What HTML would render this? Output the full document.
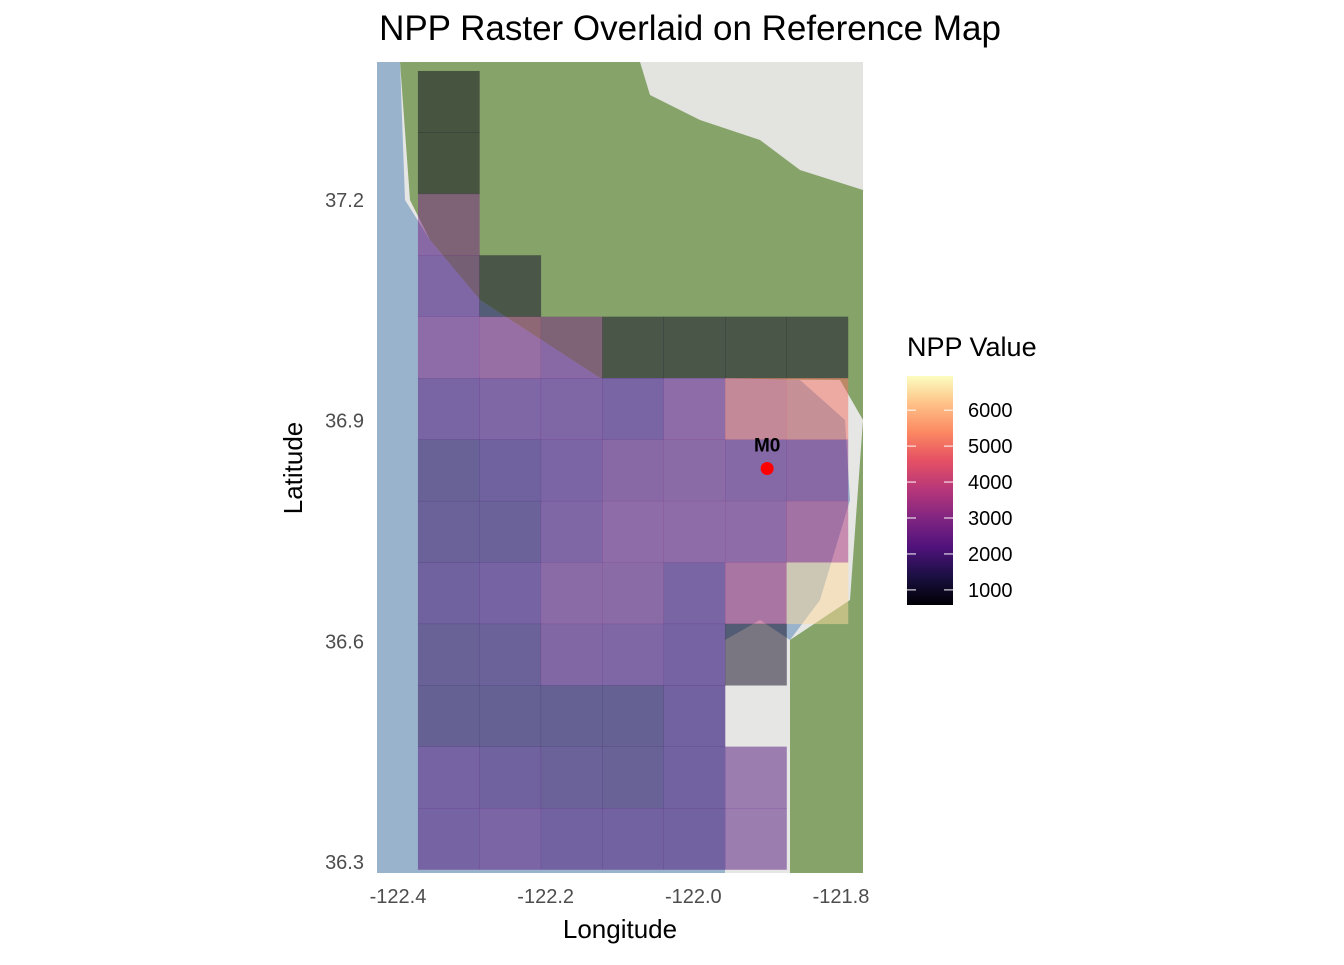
<!DOCTYPE html>
<html><head><meta charset="utf-8">
<style>
body{margin:0;background:#fff;font-family:"Liberation Sans",sans-serif;}
svg text{font-family:"Liberation Sans",sans-serif;}
</style></head>
<body>
<svg id="chart" width="1344" height="960">
<defs>
<linearGradient id="magma" x1="0" y1="1" x2="0" y2="0">
<stop offset="0" stop-color="#000004"/><stop offset="0.13" stop-color="#1c1044"/>
<stop offset="0.25" stop-color="#4f127b"/><stop offset="0.38" stop-color="#812581"/>
<stop offset="0.5" stop-color="#b5367a"/><stop offset="0.63" stop-color="#e55064"/>
<stop offset="0.75" stop-color="#fb8761"/><stop offset="0.88" stop-color="#fec287"/>
<stop offset="1" stop-color="#fcfdbf"/></linearGradient>
<clipPath id="plotclip"><rect x="377" y="62" width="486" height="811"/></clipPath>
</defs>
<text x="690" y="40" font-size="35" text-anchor="middle" fill="#000">NPP Raster Overlaid on Reference Map</text>
<g clip-path="url(#plotclip)">
<rect x="377" y="62" width="486" height="811" fill="#e6e6e4"/>
<path d="M430 62 L863 62 L863 873 L790 873 L790 640 L850 600 L863 420 L840 380 L600 378 L480 300 L430 240 L410 200 L400 62 Z" fill="#86a46a"/>
<path d="M640 62 L863 62 L863 190 L800 170 L760 140 L700 120 L650 95 Z" fill="#e3e3e0"/>
<path d="M377 62 L400 62 L405 200 L430 240 L480 300 L600 378 L720 378 L800 380 L845 420 L850 500 L820 600 L790 640 L760 620 L725 640 L725 873 L377 873 Z" fill="#9ab3cc"/>
</g>
<g id="raster"></g>
<circle id="m0" r="6.5" fill="#ff0000"/>
<text id="m0label" font-size="19" font-weight="bold" text-anchor="middle">M0</text>
<g id="xaxis"></g>
<g id="yaxis"></g>
<text x="620" y="938" font-size="26" text-anchor="middle">Longitude</text>
<text x="302" y="468" font-size="26" text-anchor="middle" transform="rotate(-90 302 468)">Latitude</text>
<g>
<text x="907" y="356" font-size="27">NPP Value</text>
<rect x="907" y="376" width="46" height="229" fill="url(#magma)"/>
<g id="legticks"></g>
</g>
</svg>
<script>
const lonTicks=[-122.4,-122.2,-122.0,-121.8];
const latTicks=[36.3,36.6,36.9,37.2];
const legendTicks=[1000,2000,3000,4000,5000,6000];
const cellLon0=-122.373, cellLat0=37.3754, cellW=0.0832, cellH=0.0835;
const rowsVals=[
[800,null,null,null,null,null,null],
[800,null,null,null,null,null,null],
[2800,null,null,null,null,null,null],
[2500,1000,null,null,null,null,null],
[3000,3300,2800,1000,1000,1000,1000],
[2300,2500,2500,2300,3000,4800,5000],
[1800,2000,2400,2800,2900,2700,2800],
[1900,1900,2500,3000,3000,3000,3600],
[2000,2200,2900,2900,2300,3800,6500],
[1800,1900,2600,2500,2200,900,null],
[1700,1700,1700,1700,2100,null,null],
[2200,2000,1900,1800,2100,2200,null],
[2200,2400,2100,2100,2100,2200,null]];
const m0Lon=-121.9, m0Lat=36.835;
const vmin=580, vmax=6950;
const X=lon=>398+(lon+122.4)*738.3;
const Y=lat=>200-(lat-37.2)*735.6;
const stops=[[0,[0,0,4]],[0.13,[28,16,68]],[0.25,[79,18,123]],[0.38,[129,37,129]],[0.5,[181,54,122]],[0.63,[229,80,100]],[0.75,[251,135,97]],[0.88,[254,194,135]],[1,[252,253,191]]];
function col(v){let t=Math.max(0,Math.min(1,(v-vmin)/(vmax-vmin)));
for(let i=1;i<stops.length;i++){if(t<=stops[i][0]){const a=stops[i-1],b=stops[i],f=(t-a[0])/(b[0]-a[0]);
return 'rgb('+a[1].map((c,k)=>Math.round(c+(b[1][k]-c)*f)).join(',')+')';}}return 'rgb(252,253,191)';}
const NS='http://www.w3.org/2000/svg';
const rg=document.getElementById('raster');
rowsVals.forEach((row,r)=>row.forEach((v,c)=>{if(v==null)return;
const x0=X(cellLon0+c*cellW),x1=X(cellLon0+(c+1)*cellW);
const y0=Y(cellLat0-r*cellH),y1=Y(cellLat0-(r+1)*cellH);
const e=document.createElementNS(NS,'rect');
e.setAttribute('x',x0);e.setAttribute('y',y0);e.setAttribute('width',x1-x0+0.3);e.setAttribute('height',y1-y0+0.3);
e.setAttribute('fill',col(v));e.setAttribute('fill-opacity','0.5');


rg.appendChild(e);}));
const m=document.getElementById('m0');m.setAttribute('cx',X(m0Lon));m.setAttribute('cy',Y(m0Lat));
const ml=document.getElementById('m0label');ml.setAttribute('x',X(m0Lon));ml.setAttribute('y',Y(m0Lat)-17);
const xa=document.getElementById('xaxis');
lonTicks.forEach(t=>{const e=document.createElementNS(NS,'text');e.setAttribute('x',X(t));e.setAttribute('y',903);
e.setAttribute('font-size','20');e.setAttribute('fill','#4d4d4d');e.setAttribute('text-anchor','middle');e.textContent=t.toFixed(1);


xa.appendChild(e);});
const ya=document.getElementById('yaxis');
latTicks.forEach(t=>{const e=document.createElementNS(NS,'text');e.setAttribute('x',364);e.setAttribute('y',Y(t)+7);
e.setAttribute('font-size','20');e.setAttribute('fill','#4d4d4d');e.setAttribute('text-anchor','end');e.textContent=t.toFixed(1);


ya.appendChild(e);});
const lt=document.getElementById('legticks');
const LY=v=>605-(v-vmin)/(vmax-vmin)*229;
legendTicks.forEach(t=>{const y=LY(t);
const l=document.createElementNS(NS,'line');l.setAttribute('x1',907);l.setAttribute('x2',916);l.setAttribute('y1',y);l.setAttribute('y2',y);l.setAttribute('stroke','#fff');


lt.appendChild(l);
const l2=l.cloneNode();l2.setAttribute('x1',944);l2.setAttribute('x2',953);lt.appendChild(l2);
const e=document.createElementNS(NS,'text');e.setAttribute('x',968);e.setAttribute('y',y+7);e.setAttribute('font-size','20');e.textContent=t;


lt.appendChild(e);});
</script>
</body></html>
